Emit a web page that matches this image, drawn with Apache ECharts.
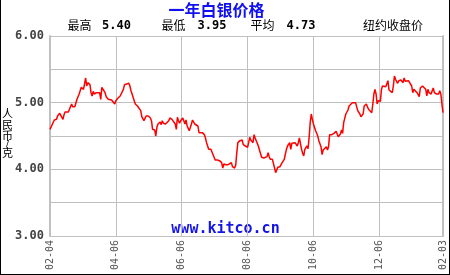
<!DOCTYPE html>
<html><head><meta charset="utf-8">
<script src="https://cdn.jsdelivr.net/npm/echarts@6/dist/echarts.min.js"></script>
<style>
html,body{margin:0;padding:0;background:#fff;}
#c{position:absolute;left:0;top:0;width:450px;height:275px;}
#frame{position:absolute;left:0;top:0;width:450px;height:275px;box-sizing:border-box;border-left:1px solid #000;border-right:1px solid #000;border-bottom:1px solid #000;pointer-events:none;}
</style></head>
<body>
<div id="c"></div><div id="frame"></div>
<script>
const titleText = '一年白银价格';
const statNames = ['最高', '最低', '平均'];
const statValues = ['5.40', '3.95', '4.73'];
const noteText = '纽约收盘价';
const yAxisName = '人民币/克';
const watermark = 'www.kitco.cn';
// x: day offset from 02-04; tick days and their labels
const tickDays = [0, 61, 122, 183, 244, 305, 364];
const tickLabels = ['02-04', '04-06', '06-06', '08-06', '10-06', '12-06', '02-03'];
const days = [0,1,4,6,7,9,10,12,13,14,17,18,20,21,23,24,25,27,28,29,31,32,33,34,35,37,38,39,40,41,43,44,46,47,48,49,51,52,54,55,57,58,60,61,63,65,66,68,69,71,73,74,75,76,78,79,81,82,84,85,87,88,89,90,91,93,94,95,97,98,99,100,102,103,104,105,107,108,110,111,113,114,116,117,118,119,120,121,123,124,125,126,127,129,130,131,132,134,135,137,138,139,141,143,144,145,147,148,149,150,152,153,154,155,157,159,160,161,163,165,166,168,169,171,172,173,174,176,178,179,180,181,183,184,185,186,188,189,190,191,193,194,195,196,198,199,201,202,203,204,206,207,208,209,211,212,213,214,215,217,218,219,220,222,223,224,225,227,228,229,230,231,233,234,235,236,238,239,240,241,242,243,244,246,247,248,249,251,252,253,254,256,257,258,259,261,262,263,264,265,267,268,269,270,271,272,274,275,276,277,278,280,281,283,284,285,287,288,289,290,291,293,294,295,296,298,299,300,301,302,303,304,306,307,308,309,311,312,313,314,315,317,318,319,320,322,323,324,325,327,328,329,330,332,333,335,336,337,338,340,341,342,343,344,345,346,348,349,350,351,353,354,355,356,358,359,360,361,362,363,364];
const prices = [4.60,4.63,4.74,4.75,4.80,4.84,4.87,4.75,4.82,4.86,4.86,4.89,4.98,4.94,4.94,4.95,5.05,5.13,5.15,5.23,5.20,5.28,5.37,5.25,5.30,5.27,5.15,5.10,5.17,5.13,5.15,5.13,5.15,5.05,5.23,5.22,5.15,5.09,5.05,5.05,5.04,5.03,4.98,5.03,5.07,5.10,5.13,5.20,5.27,5.28,5.29,5.25,5.18,5.13,5.03,4.98,4.95,4.93,4.88,4.79,4.73,4.70,4.80,4.83,4.80,4.77,4.73,4.60,4.59,4.50,4.63,4.68,4.71,4.67,4.73,4.69,4.68,4.67,4.73,4.77,4.75,4.73,4.68,4.60,4.78,4.73,4.69,4.73,4.77,4.74,4.68,4.74,4.65,4.58,4.55,4.68,4.74,4.68,4.65,4.65,4.55,4.55,4.55,4.52,4.47,4.40,4.30,4.31,4.30,4.28,4.18,4.14,4.15,4.14,4.13,4.10,4.02,4.08,4.07,4.07,4.07,4.10,4.04,4.02,4.06,4.25,4.40,4.43,4.44,4.37,4.34,4.35,4.33,4.40,4.48,4.44,4.40,4.52,4.47,4.43,4.35,4.29,4.27,4.18,4.17,4.18,4.19,4.25,4.19,4.15,4.15,4.13,4.02,3.95,4.03,4.02,4.04,4.04,4.10,4.15,4.23,4.30,4.35,4.40,4.30,4.39,4.41,4.40,4.41,4.35,4.40,4.47,4.30,4.24,4.20,4.30,4.35,4.31,4.48,4.70,4.83,4.75,4.68,4.58,4.54,4.50,4.43,4.34,4.22,4.29,4.30,4.34,4.29,4.34,4.52,4.52,4.52,4.54,4.53,4.57,4.49,4.49,4.53,4.59,4.54,4.70,4.83,4.85,4.89,4.95,4.93,5.00,4.98,5.00,4.99,4.88,4.83,4.79,4.81,4.83,4.95,4.98,4.94,4.90,4.89,4.85,4.98,5.13,5.20,5.13,4.98,5.03,5.02,5.20,5.25,5.25,5.24,5.27,5.33,5.19,5.20,5.15,5.25,5.40,5.35,5.29,5.33,5.30,5.34,5.30,5.37,5.32,5.33,5.33,5.32,5.25,5.15,5.20,5.18,5.15,5.13,5.09,5.22,5.25,5.25,5.23,5.20,5.10,5.20,5.15,5.13,5.18,5.22,5.15,5.13,5.14,5.13,5.18,5.13,4.98,4.85];

const seriesData = days.map((d, i) => [d, prices[i]]);
const chart = echarts.init(document.getElementById('c'), null, {renderer: 'canvas'});
const mono = "'DejaVu Sans Mono', 'Liberation Mono', monospace";
const cjk = "'Noto Sans CJK SC', sans-serif";
const nameX = [79.5, 173.5, 262.5];
const valueX = [116.5, 212, 301];
function txt(x, y, text, font, fill, extra) {
  return Object.assign({type: 'text', x: x, y: y, silent: true,
    style: Object.assign({text: text, font: font, fill: fill, align: 'center', verticalAlign: 'middle'}, extra || {})});
}
const graphics = [];
statNames.forEach((n, i) => {
  graphics.push(txt(nameX[i], 25.5, n, 'normal 12px ' + cjk, '#000'));
  graphics.push(txt(valueX[i], 26, statValues[i], 'bold 12px ' + mono, '#000'));
});
graphics.push(txt(393, 25.5, noteText, 'normal 12px ' + cjk, '#000'));
const nameRich = yAxisName.split('').map(c => c === '/' ? '{s|' + c + '}' : '{a|' + c + '}').join('\n');
graphics.push(txt(7.5, 133.5, nameRich, 'normal 11px ' + cjk, '#000', {
  rich: {a: {fontSize: 11, lineHeight: 11, fontFamily: cjk, fill: '#000'},
         s: {fontSize: 9, lineHeight: 6, fontFamily: 'DejaVu Sans', fill: '#000'}}}));
graphics.push(txt(225.5, 229.5, watermark, 'bold 15px ' + mono, '#1515e8'));
graphics.push(txt(216.5, 9.5, titleText, 'bold 16px ' + cjk, '#1010f0'));

chart.setOption({
  animation: false,
  backgroundColor: '#fff',
  grid: {left: 50, right: 7, top: 36, bottom: 39, containLabel: false},
  xAxis: {type: 'value', min: 0, max: 364, interval: 61,
    axisLine: {show: true, lineStyle: {color: '#c0c0c0', width: 1}},
    axisTick: {show: false},
    splitLine: {show: true, lineStyle: {color: '#c0c0c0', width: 1}},
    axisLabel: {rotate: 90, margin: 4, color: '#555', fontSize: 10, fontFamily: mono,
      showMinLabel: true, showMaxLabel: true,
      formatter: v => { const k = tickDays.indexOf(Math.round(v)); return k >= 0 ? tickLabels[k] : ''; }}
  },
  yAxis: [{type: 'value', min: 3, max: 6, interval: 0.5,
    axisLine: {show: true, lineStyle: {color: '#c0c0c0', width: 2}},
    axisTick: {show: false},
    splitLine: {show: true, lineStyle: {color: '#c0c0c0', width: 1}},
    axisLabel: {margin: 6, color: '#444', fontSize: 12, fontWeight: 'bold', fontFamily: mono,
      formatter: v => Math.abs(v - Math.round(v)) < 1e-6 ? v.toFixed(2) : ''}
  }, {type: 'value', min: 3, max: 6, interval: 0.5, position: 'right',
    axisLine: {show: true, lineStyle: {color: '#c0c0c0', width: 2}},
    axisTick: {show: false}, splitLine: {show: false}, axisLabel: {show: false}
  }],
  graphic: graphics,
  series: [{type: 'line', data: seriesData, yAxisIndex: 0, showSymbol: false, symbol: 'none',
    lineStyle: {color: '#ff0000', width: 1.5}, silent: true}]
});
</script>
</body></html>
